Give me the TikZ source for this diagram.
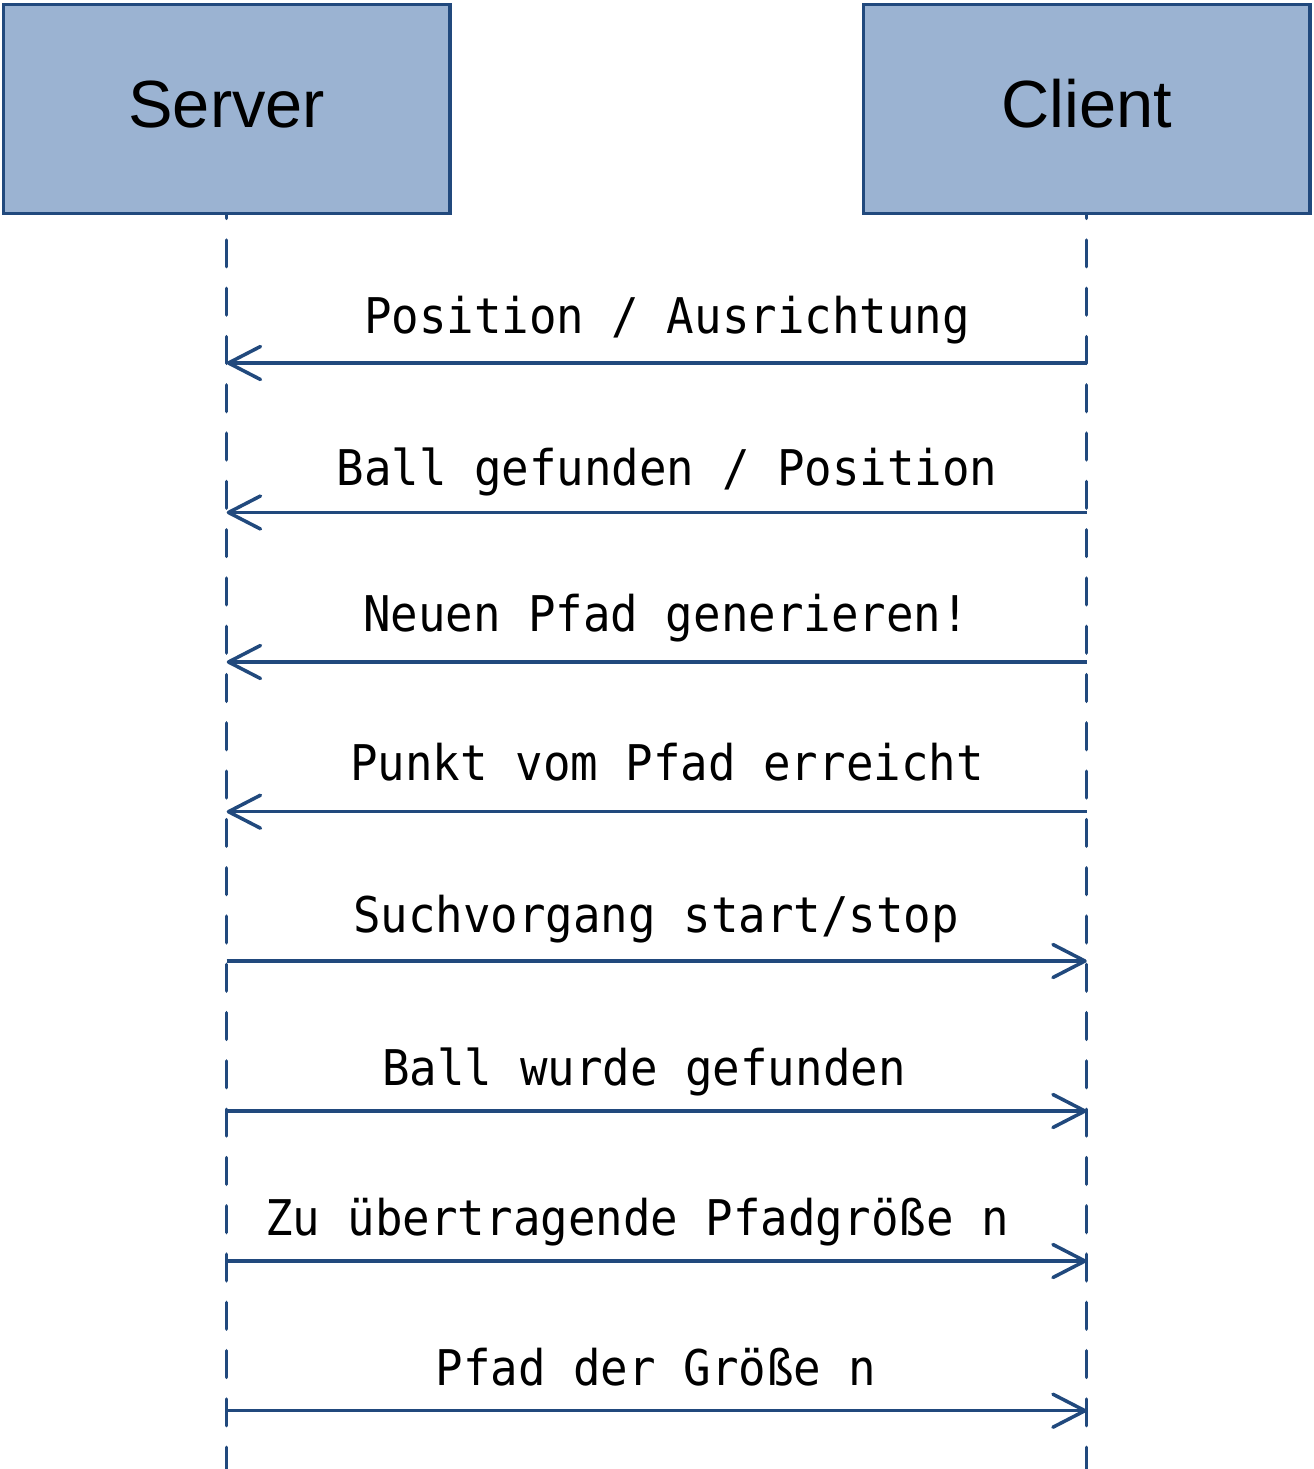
\documentclass[tikz,border=0pt]{standalone}
\usepackage{fontspec}
\setmainfont{Liberation Sans}
\newfontfamily\msgfont[FakeStretch=0.93]{DejaVu Sans Mono}
\usetikzlibrary{arrows.meta}
\definecolor{lineblue}{RGB}{33,73,125}
\definecolor{boxblue}{RGB}{155,179,210}

\begin{document}
\begin{tikzpicture}[x=0.02cm, y=-0.02cm,
  actor/.style={draw=lineblue, fill=boxblue, line width=1.9pt, minimum width=8.934cm,
    minimum height=4.184cm, inner sep=0pt, font=\fontsize{38}{40}\selectfont,
    text height=27pt, text depth=5.5pt},
  lifeline/.style={lineblue, line width=2pt, line cap=round,
    dash pattern=on 0.534cm off 0.432cm, dash phase=0.468cm},
  msg/.style={lineblue, line width=2pt, -{Straight Barb[length=0.64cm, width=0.66cm, round]}},
  msglabel/.style={anchor=base, inner sep=0pt, font=\msgfont\fontsize{28}{30}\selectfont}]
  \useasboundingbox (0,0) rectangle (1313,1469);

  \node[actor] (server) at (226.7,108.9) {Server};
  \node[actor] (client) at (1086.7,108.9) {Client};

  % lifelines
  \coordinate (serverEnd) at (226.7,1469);
  \coordinate (clientEnd) at (1086.7,1469);
  \draw[lifeline] (server.south) -- (serverEnd);
  \draw[lifeline] (client.south) -- (clientEnd);

  % client -> server
  \foreach \y/\lx/\gap/\txt [count=\i] in {363/667/29.3/{Position / Ausrichtung},
      512.5/667/27.3/{Ball gefunden / Position}, 662/666/30.6/{Neuen Pfad generieren!},
      811.7/667/31.7/{Punkt vom Pfad erreicht}}{
    \draw[msg] (client.south |- 0,\y) -- (server.south |- 0,\y);
    \node[msglabel] (up\i) at (\lx,\y-\gap) {\txt};
  }

  % server -> client
  \foreach \y/\lx/\gap/\txt [count=\i] in {961/656/28.3/{Suchvorgang start/stop},
      1111/644/26/{Ball wurde gefunden}, 1261/637/25.7/{Zu übertragende Pfadgröße n},
      1410.7/656/25.7/{Pfad der Größe n}}{
    \draw[msg] (server.south |- 0,\y) -- (client.south |- 0,\y);
    \node[msglabel] (down\i) at (\lx,\y-\gap) {\txt};
  }
\end{tikzpicture}
\end{document}
